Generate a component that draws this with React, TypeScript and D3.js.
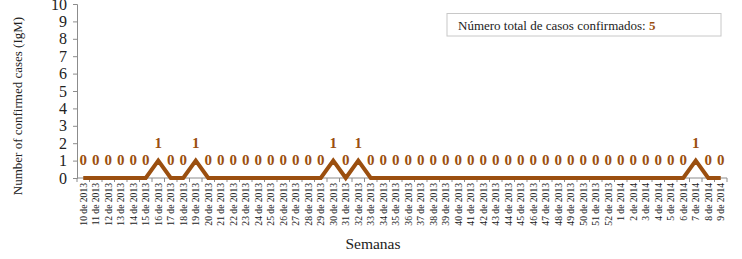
import React, { useEffect, useRef } from 'react';
import * as d3 from 'd3';

// Weeks 10/2013 .. 9/2014
const weeks2013 = d3.range(10, 53).map(w => `${w} de 2013`);
const weeks2014 = d3.range(1, 10).map(w => `${w} de 2014`);
const categories = [...weeks2013, ...weeks2014];

// confirmed cases per week (IgM)
const cases = [
  0, 0, 0, 0, 0, 0, 1, 0, 0, 1, // 10-19
  0, 0, 0, 0, 0, 0, 0, 0, 0, 0, // 20-29
  1, 0, 1, 0, 0, 0, 0, 0, 0, 0, // 30-39
  0, 0, 0, 0, 0, 0, 0, 0, 0, 0, // 40-49
  0, 0, 0,                      // 50-52
  0, 0, 0, 0, 0, 0, 1, 0, 0,    // 1-9 2014
];

const yTicks = d3.range(0, 11);
const totalLabel = 'Número total de casos confirmados: ';

const App = () => {
  const svgRef = useRef<SVGSVGElement>(null);

  useEffect(() => {
    const W = 742, H = 259;
    const brown = '#9b4f0f';
    const font = '"Liberation Serif", "Times New Roman", serif';

    const svg = d3.select(svgRef.current).attr('width', W).attr('height', H);
    svg.selectAll('*').remove();
    svg.style('font-family', font);

    const x = d3.scaleBand().domain(categories).range([77, 727]).padding(0);
    const y = d3.scaleLinear().domain([0, 10]).range([178, 4]);
    const cx = (c: string) => (x(c) as number) + x.bandwidth() / 2;

    // Y axis
    const yAxis = svg.append('g').attr('transform', 'translate(77,0)')
      .call(d3.axisLeft(y).tickValues(yTicks).tickSize(4).tickPadding(6).tickFormat(d3.format('d')));
    yAxis.select('.domain').attr('stroke', '#8c8c8c');
    yAxis.selectAll('.tick line').attr('stroke', '#8c8c8c');
    yAxis.selectAll('.tick text').attr('font-size', 16).attr('font-family', font).attr('fill', '#222');

    // X axis
    const xAxis = svg.append('g').attr('transform', 'translate(0,178)');
    xAxis.append('line').attr('x1', 77).attr('x2', 727).attr('stroke', '#8c8c8c');
    xAxis.selectAll('line.tk')
      .data([...categories.map(c => x(c) as number), 727])
      .enter().append('line').attr('class', 'tk')
      .attr('x1', d => d).attr('x2', d => d).attr('y1', 0).attr('y2', 4)
      .attr('stroke', '#8c8c8c');
    xAxis.selectAll('text')
      .data(categories)
      .enter().append('text')
      .attr('transform', d => `translate(${cx(d) + 3.5},5) rotate(-90)`)
      .attr('text-anchor', 'end')
      .attr('font-size', 9.6)
      .attr('fill', '#222')
      .text(d => d);

    // line
    const line = d3.line<number>()
      .x((d, i) => cx(categories[i]))
      .y(d => y(d));
    svg.append('path')
      .datum(cases)
      .attr('fill', 'none')
      .attr('stroke', brown)
      .attr('stroke-width', 4)
      .attr('stroke-linejoin', 'miter')
      .attr('d', line);

    // data labels
    svg.selectAll('text.lbl')
      .data(cases)
      .enter().append('text')
      .attr('class', 'lbl')
      .attr('x', (d, i) => cx(categories[i]))
      .attr('y', d => y(d) - 13)
      .attr('text-anchor', 'middle')
      .attr('font-size', 15)
      .attr('font-weight', 'bold')
      .attr('fill', brown)
      .text(d => d);

    // axis titles
    svg.append('text')
      .attr('transform', 'translate(22,106) rotate(-90)')
      .attr('text-anchor', 'middle')
      .attr('font-size', 13)
      .attr('fill', '#222')
      .text('Number of confirmed cases (IgM)');

    svg.append('text')
      .attr('x', 373).attr('y', 249)
      .attr('text-anchor', 'middle')
      .attr('font-size', 15.5)
      .attr('fill', '#222')
      .text('Semanas');

    // total box
    const g = svg.append('g');
    g.append('rect')
      .attr('x', 447).attr('y', 13.5).attr('width', 274).attr('height', 22.5)
      .attr('fill', '#fff').attr('stroke', '#c8c8c8');
    const t = g.append('text').attr('x', 458).attr('y', 30).attr('font-size', 13).attr('fill', '#222');
    t.append('tspan').text(totalLabel);
    t.append('tspan').attr('font-weight', 'bold').attr('fill', brown).text(d3.sum(cases));
  }, []);

  return <svg ref={svgRef} style={{ position: 'absolute', left: 0, top: 0 }} />;
};

export default App;
